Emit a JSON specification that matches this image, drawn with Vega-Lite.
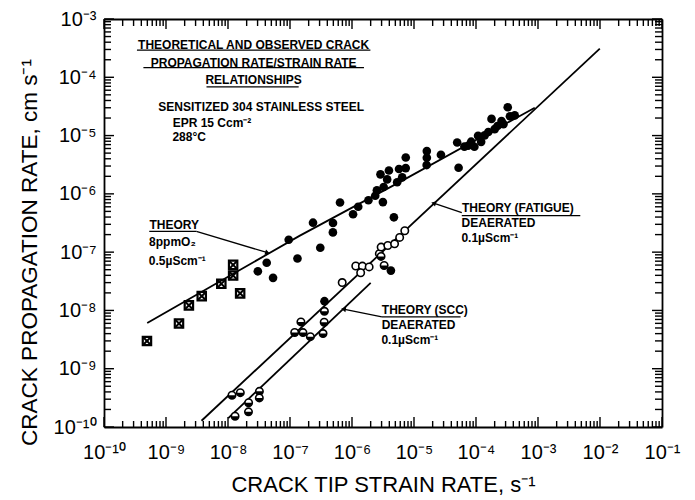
{
  "$schema": "https://vega.github.io/schema/vega-lite/v6.json",
  "width": 558,
  "height": 408,
  "autosize": {"type": "none"},
  "padding": {"left": 104, "top": 19, "right": 33, "bottom": 73},
  "background": "white",
  "config": {
    "view": {"stroke": null},
    "axis": {"grid": false, "domain": false, "ticks": false, "tickSize": 0, "domainColor": "black", "labelColor": "black", "titleColor": "black", "labelFont": "Liberation Sans", "titleFont": "Liberation Sans", "titleFontWeight": "normal", "labelFlush": false, "labelOverlap": false},
    "text": {"font": "Liberation Sans"}
  },
  "datasets": {
    "vt": [
      {"x":1e-10,"y":1e-10,"y2":1.485e-10},{"x":2e-10,"y":1e-10,"y2":1.267e-10},{"x":3e-10,"y":1e-10,"y2":1.267e-10},{"x":4e-10,"y":1e-10,"y2":1.267e-10},{"x":5e-10,"y":1e-10,"y2":1.267e-10},{"x":6e-10,"y":1e-10,"y2":1.267e-10},{"x":7e-10,"y":1e-10,"y2":1.267e-10},{"x":8e-10,"y":1e-10,"y2":1.267e-10},{"x":9e-10,"y":1e-10,"y2":1.267e-10},
      {"x":1e-9,"y":1e-10,"y2":1.485e-10},{"x":2e-9,"y":1e-10,"y2":1.267e-10},{"x":3e-9,"y":1e-10,"y2":1.267e-10},{"x":4e-9,"y":1e-10,"y2":1.267e-10},{"x":5e-9,"y":1e-10,"y2":1.267e-10},{"x":6e-9,"y":1e-10,"y2":1.267e-10},{"x":7e-9,"y":1e-10,"y2":1.267e-10},{"x":8e-9,"y":1e-10,"y2":1.267e-10},{"x":9e-9,"y":1e-10,"y2":1.267e-10},
      {"x":1e-8,"y":1e-10,"y2":1.485e-10},{"x":2e-8,"y":1e-10,"y2":1.267e-10},{"x":3e-8,"y":1e-10,"y2":1.267e-10},{"x":4e-8,"y":1e-10,"y2":1.267e-10},{"x":5e-8,"y":1e-10,"y2":1.267e-10},{"x":6e-8,"y":1e-10,"y2":1.267e-10},{"x":7e-8,"y":1e-10,"y2":1.267e-10},{"x":8e-8,"y":1e-10,"y2":1.267e-10},{"x":9e-8,"y":1e-10,"y2":1.267e-10},
      {"x":1e-7,"y":1e-10,"y2":1.485e-10},{"x":2e-7,"y":1e-10,"y2":1.267e-10},{"x":3e-7,"y":1e-10,"y2":1.267e-10},{"x":4e-7,"y":1e-10,"y2":1.267e-10},{"x":5e-7,"y":1e-10,"y2":1.267e-10},{"x":6e-7,"y":1e-10,"y2":1.267e-10},{"x":7e-7,"y":1e-10,"y2":1.267e-10},{"x":8e-7,"y":1e-10,"y2":1.267e-10},{"x":9e-7,"y":1e-10,"y2":1.267e-10},
      {"x":1e-6,"y":1e-10,"y2":1.485e-10},{"x":2e-6,"y":1e-10,"y2":1.267e-10},{"x":3e-6,"y":1e-10,"y2":1.267e-10},{"x":4e-6,"y":1e-10,"y2":1.267e-10},{"x":5e-6,"y":1e-10,"y2":1.267e-10},{"x":6e-6,"y":1e-10,"y2":1.267e-10},{"x":7e-6,"y":1e-10,"y2":1.267e-10},{"x":8e-6,"y":1e-10,"y2":1.267e-10},{"x":9e-6,"y":1e-10,"y2":1.267e-10},
      {"x":1e-5,"y":1e-10,"y2":1.485e-10},{"x":2e-5,"y":1e-10,"y2":1.267e-10},{"x":3e-5,"y":1e-10,"y2":1.267e-10},{"x":4e-5,"y":1e-10,"y2":1.267e-10},{"x":5e-5,"y":1e-10,"y2":1.267e-10},{"x":6e-5,"y":1e-10,"y2":1.267e-10},{"x":7e-5,"y":1e-10,"y2":1.267e-10},{"x":8e-5,"y":1e-10,"y2":1.267e-10},{"x":9e-5,"y":1e-10,"y2":1.267e-10},
      {"x":1e-4,"y":1e-10,"y2":1.485e-10},{"x":2e-4,"y":1e-10,"y2":1.267e-10},{"x":3e-4,"y":1e-10,"y2":1.267e-10},{"x":4e-4,"y":1e-10,"y2":1.267e-10},{"x":5e-4,"y":1e-10,"y2":1.267e-10},{"x":6e-4,"y":1e-10,"y2":1.267e-10},{"x":7e-4,"y":1e-10,"y2":1.267e-10},{"x":8e-4,"y":1e-10,"y2":1.267e-10},{"x":9e-4,"y":1e-10,"y2":1.267e-10},
      {"x":0.001,"y":1e-10,"y2":1.485e-10},{"x":0.002,"y":1e-10,"y2":1.267e-10},{"x":0.003,"y":1e-10,"y2":1.267e-10},{"x":0.004,"y":1e-10,"y2":1.267e-10},{"x":0.005,"y":1e-10,"y2":1.267e-10},{"x":0.006,"y":1e-10,"y2":1.267e-10},{"x":0.007,"y":1e-10,"y2":1.267e-10},{"x":0.008,"y":1e-10,"y2":1.267e-10},{"x":0.009,"y":1e-10,"y2":1.267e-10},
      {"x":0.01,"y":1e-10,"y2":1.485e-10},{"x":0.02,"y":1e-10,"y2":1.267e-10},{"x":0.03,"y":1e-10,"y2":1.267e-10},{"x":0.04,"y":1e-10,"y2":1.267e-10},{"x":0.05,"y":1e-10,"y2":1.267e-10},{"x":0.06,"y":1e-10,"y2":1.267e-10},{"x":0.07,"y":1e-10,"y2":1.267e-10},{"x":0.08,"y":1e-10,"y2":1.267e-10},{"x":0.09,"y":1e-10,"y2":1.267e-10},
      {"x":0.1,"y":1e-10,"y2":1.485e-10},
      {"x":1e-10,"y":0.001,"y2":6.73e-4},{"x":2e-10,"y":0.001,"y2":7.59e-4},{"x":3e-10,"y":0.001,"y2":7.59e-4},{"x":4e-10,"y":0.001,"y2":7.59e-4},{"x":5e-10,"y":0.001,"y2":7.59e-4},{"x":6e-10,"y":0.001,"y2":7.59e-4},{"x":7e-10,"y":0.001,"y2":7.59e-4},{"x":8e-10,"y":0.001,"y2":7.59e-4},{"x":9e-10,"y":0.001,"y2":7.59e-4},
      {"x":1e-9,"y":0.001,"y2":6.73e-4},{"x":2e-9,"y":0.001,"y2":7.59e-4},{"x":3e-9,"y":0.001,"y2":7.59e-4},{"x":4e-9,"y":0.001,"y2":7.59e-4},{"x":5e-9,"y":0.001,"y2":7.59e-4},{"x":6e-9,"y":0.001,"y2":7.59e-4},{"x":7e-9,"y":0.001,"y2":7.59e-4},{"x":8e-9,"y":0.001,"y2":7.59e-4},{"x":9e-9,"y":0.001,"y2":7.59e-4},
      {"x":1e-8,"y":0.001,"y2":6.73e-4},{"x":2e-8,"y":0.001,"y2":7.59e-4},{"x":3e-8,"y":0.001,"y2":7.59e-4},{"x":4e-8,"y":0.001,"y2":7.59e-4},{"x":5e-8,"y":0.001,"y2":7.59e-4},{"x":6e-8,"y":0.001,"y2":7.59e-4},{"x":7e-8,"y":0.001,"y2":7.59e-4},{"x":8e-8,"y":0.001,"y2":7.59e-4},{"x":9e-8,"y":0.001,"y2":7.59e-4},
      {"x":1e-7,"y":0.001,"y2":6.73e-4},{"x":2e-7,"y":0.001,"y2":7.59e-4},{"x":3e-7,"y":0.001,"y2":7.59e-4},{"x":4e-7,"y":0.001,"y2":7.59e-4},{"x":5e-7,"y":0.001,"y2":7.59e-4},{"x":6e-7,"y":0.001,"y2":7.59e-4},{"x":7e-7,"y":0.001,"y2":7.59e-4},{"x":8e-7,"y":0.001,"y2":7.59e-4},{"x":9e-7,"y":0.001,"y2":7.59e-4},
      {"x":1e-6,"y":0.001,"y2":6.73e-4},{"x":2e-6,"y":0.001,"y2":7.59e-4},{"x":3e-6,"y":0.001,"y2":7.59e-4},{"x":4e-6,"y":0.001,"y2":7.59e-4},{"x":5e-6,"y":0.001,"y2":7.59e-4},{"x":6e-6,"y":0.001,"y2":7.59e-4},{"x":7e-6,"y":0.001,"y2":7.59e-4},{"x":8e-6,"y":0.001,"y2":7.59e-4},{"x":9e-6,"y":0.001,"y2":7.59e-4},
      {"x":1e-5,"y":0.001,"y2":6.73e-4},{"x":2e-5,"y":0.001,"y2":7.59e-4},{"x":3e-5,"y":0.001,"y2":7.59e-4},{"x":4e-5,"y":0.001,"y2":7.59e-4},{"x":5e-5,"y":0.001,"y2":7.59e-4},{"x":6e-5,"y":0.001,"y2":7.59e-4},{"x":7e-5,"y":0.001,"y2":7.59e-4},{"x":8e-5,"y":0.001,"y2":7.59e-4},{"x":9e-5,"y":0.001,"y2":7.59e-4},
      {"x":1e-4,"y":0.001,"y2":6.73e-4},{"x":2e-4,"y":0.001,"y2":7.59e-4},{"x":3e-4,"y":0.001,"y2":7.59e-4},{"x":4e-4,"y":0.001,"y2":7.59e-4},{"x":5e-4,"y":0.001,"y2":7.59e-4},{"x":6e-4,"y":0.001,"y2":7.59e-4},{"x":7e-4,"y":0.001,"y2":7.59e-4},{"x":8e-4,"y":0.001,"y2":7.59e-4},{"x":9e-4,"y":0.001,"y2":7.59e-4},
      {"x":0.001,"y":0.001,"y2":6.73e-4},{"x":0.002,"y":0.001,"y2":7.59e-4},{"x":0.003,"y":0.001,"y2":7.59e-4},{"x":0.004,"y":0.001,"y2":7.59e-4},{"x":0.005,"y":0.001,"y2":7.59e-4},{"x":0.006,"y":0.001,"y2":7.59e-4},{"x":0.007,"y":0.001,"y2":7.59e-4},{"x":0.008,"y":0.001,"y2":7.59e-4},{"x":0.009,"y":0.001,"y2":7.59e-4},
      {"x":0.01,"y":0.001,"y2":6.73e-4},{"x":0.02,"y":0.001,"y2":7.59e-4},{"x":0.03,"y":0.001,"y2":7.59e-4},{"x":0.04,"y":0.001,"y2":7.59e-4},{"x":0.05,"y":0.001,"y2":7.59e-4},{"x":0.06,"y":0.001,"y2":7.59e-4},{"x":0.07,"y":0.001,"y2":7.59e-4},{"x":0.08,"y":0.001,"y2":7.59e-4},{"x":0.09,"y":0.001,"y2":7.59e-4},
      {"x":0.1,"y":0.001,"y2":6.73e-4}
    ],
    "ht": [
      {"y":1e-10,"x":1e-10,"x2":1.449e-10},{"y":2e-10,"x":1e-10,"x2":1.297e-10},{"y":3e-10,"x":1e-10,"x2":1.297e-10},{"y":4e-10,"x":1e-10,"x2":1.297e-10},{"y":5e-10,"x":1e-10,"x2":1.297e-10},{"y":6e-10,"x":1e-10,"x2":1.297e-10},{"y":7e-10,"x":1e-10,"x2":1.297e-10},{"y":8e-10,"x":1e-10,"x2":1.297e-10},{"y":9e-10,"x":1e-10,"x2":1.297e-10},
      {"y":1e-9,"x":1e-10,"x2":1.449e-10},{"y":2e-9,"x":1e-10,"x2":1.297e-10},{"y":3e-9,"x":1e-10,"x2":1.297e-10},{"y":4e-9,"x":1e-10,"x2":1.297e-10},{"y":5e-9,"x":1e-10,"x2":1.297e-10},{"y":6e-9,"x":1e-10,"x2":1.297e-10},{"y":7e-9,"x":1e-10,"x2":1.297e-10},{"y":8e-9,"x":1e-10,"x2":1.297e-10},{"y":9e-9,"x":1e-10,"x2":1.297e-10},
      {"y":1e-8,"x":1e-10,"x2":1.449e-10},{"y":2e-8,"x":1e-10,"x2":1.297e-10},{"y":3e-8,"x":1e-10,"x2":1.297e-10},{"y":4e-8,"x":1e-10,"x2":1.297e-10},{"y":5e-8,"x":1e-10,"x2":1.297e-10},{"y":6e-8,"x":1e-10,"x2":1.297e-10},{"y":7e-8,"x":1e-10,"x2":1.297e-10},{"y":8e-8,"x":1e-10,"x2":1.297e-10},{"y":9e-8,"x":1e-10,"x2":1.297e-10},
      {"y":1e-7,"x":1e-10,"x2":1.449e-10},{"y":2e-7,"x":1e-10,"x2":1.297e-10},{"y":3e-7,"x":1e-10,"x2":1.297e-10},{"y":4e-7,"x":1e-10,"x2":1.297e-10},{"y":5e-7,"x":1e-10,"x2":1.297e-10},{"y":6e-7,"x":1e-10,"x2":1.297e-10},{"y":7e-7,"x":1e-10,"x2":1.297e-10},{"y":8e-7,"x":1e-10,"x2":1.297e-10},{"y":9e-7,"x":1e-10,"x2":1.297e-10},
      {"y":1e-6,"x":1e-10,"x2":1.449e-10},{"y":2e-6,"x":1e-10,"x2":1.297e-10},{"y":3e-6,"x":1e-10,"x2":1.297e-10},{"y":4e-6,"x":1e-10,"x2":1.297e-10},{"y":5e-6,"x":1e-10,"x2":1.297e-10},{"y":6e-6,"x":1e-10,"x2":1.297e-10},{"y":7e-6,"x":1e-10,"x2":1.297e-10},{"y":8e-6,"x":1e-10,"x2":1.297e-10},{"y":9e-6,"x":1e-10,"x2":1.297e-10},
      {"y":1e-5,"x":1e-10,"x2":1.449e-10},{"y":2e-5,"x":1e-10,"x2":1.297e-10},{"y":3e-5,"x":1e-10,"x2":1.297e-10},{"y":4e-5,"x":1e-10,"x2":1.297e-10},{"y":5e-5,"x":1e-10,"x2":1.297e-10},{"y":6e-5,"x":1e-10,"x2":1.297e-10},{"y":7e-5,"x":1e-10,"x2":1.297e-10},{"y":8e-5,"x":1e-10,"x2":1.297e-10},{"y":9e-5,"x":1e-10,"x2":1.297e-10},
      {"y":1e-4,"x":1e-10,"x2":1.449e-10},{"y":2e-4,"x":1e-10,"x2":1.297e-10},{"y":3e-4,"x":1e-10,"x2":1.297e-10},{"y":4e-4,"x":1e-10,"x2":1.297e-10},{"y":5e-4,"x":1e-10,"x2":1.297e-10},{"y":6e-4,"x":1e-10,"x2":1.297e-10},{"y":7e-4,"x":1e-10,"x2":1.297e-10},{"y":8e-4,"x":1e-10,"x2":1.297e-10},{"y":9e-4,"x":1e-10,"x2":1.297e-10},
      {"y":0.001,"x":1e-10,"x2":1.449e-10},
      {"y":1e-10,"x":0.1,"x2":0.069},{"y":2e-10,"x":0.1,"x2":0.0771},{"y":3e-10,"x":0.1,"x2":0.0771},{"y":4e-10,"x":0.1,"x2":0.0771},{"y":5e-10,"x":0.1,"x2":0.0771},{"y":6e-10,"x":0.1,"x2":0.0771},{"y":7e-10,"x":0.1,"x2":0.0771},{"y":8e-10,"x":0.1,"x2":0.0771},{"y":9e-10,"x":0.1,"x2":0.0771},
      {"y":1e-9,"x":0.1,"x2":0.069},{"y":2e-9,"x":0.1,"x2":0.0771},{"y":3e-9,"x":0.1,"x2":0.0771},{"y":4e-9,"x":0.1,"x2":0.0771},{"y":5e-9,"x":0.1,"x2":0.0771},{"y":6e-9,"x":0.1,"x2":0.0771},{"y":7e-9,"x":0.1,"x2":0.0771},{"y":8e-9,"x":0.1,"x2":0.0771},{"y":9e-9,"x":0.1,"x2":0.0771},
      {"y":1e-8,"x":0.1,"x2":0.069},{"y":2e-8,"x":0.1,"x2":0.0771},{"y":3e-8,"x":0.1,"x2":0.0771},{"y":4e-8,"x":0.1,"x2":0.0771},{"y":5e-8,"x":0.1,"x2":0.0771},{"y":6e-8,"x":0.1,"x2":0.0771},{"y":7e-8,"x":0.1,"x2":0.0771},{"y":8e-8,"x":0.1,"x2":0.0771},{"y":9e-8,"x":0.1,"x2":0.0771},
      {"y":1e-7,"x":0.1,"x2":0.069},{"y":2e-7,"x":0.1,"x2":0.0771},{"y":3e-7,"x":0.1,"x2":0.0771},{"y":4e-7,"x":0.1,"x2":0.0771},{"y":5e-7,"x":0.1,"x2":0.0771},{"y":6e-7,"x":0.1,"x2":0.0771},{"y":7e-7,"x":0.1,"x2":0.0771},{"y":8e-7,"x":0.1,"x2":0.0771},{"y":9e-7,"x":0.1,"x2":0.0771},
      {"y":1e-6,"x":0.1,"x2":0.069},{"y":2e-6,"x":0.1,"x2":0.0771},{"y":3e-6,"x":0.1,"x2":0.0771},{"y":4e-6,"x":0.1,"x2":0.0771},{"y":5e-6,"x":0.1,"x2":0.0771},{"y":6e-6,"x":0.1,"x2":0.0771},{"y":7e-6,"x":0.1,"x2":0.0771},{"y":8e-6,"x":0.1,"x2":0.0771},{"y":9e-6,"x":0.1,"x2":0.0771},
      {"y":1e-5,"x":0.1,"x2":0.069},{"y":2e-5,"x":0.1,"x2":0.0771},{"y":3e-5,"x":0.1,"x2":0.0771},{"y":4e-5,"x":0.1,"x2":0.0771},{"y":5e-5,"x":0.1,"x2":0.0771},{"y":6e-5,"x":0.1,"x2":0.0771},{"y":7e-5,"x":0.1,"x2":0.0771},{"y":8e-5,"x":0.1,"x2":0.0771},{"y":9e-5,"x":0.1,"x2":0.0771},
      {"y":1e-4,"x":0.1,"x2":0.069},{"y":2e-4,"x":0.1,"x2":0.0771},{"y":3e-4,"x":0.1,"x2":0.0771},{"y":4e-4,"x":0.1,"x2":0.0771},{"y":5e-4,"x":0.1,"x2":0.0771},{"y":6e-4,"x":0.1,"x2":0.0771},{"y":7e-4,"x":0.1,"x2":0.0771},{"y":8e-4,"x":0.1,"x2":0.0771},{"y":9e-4,"x":0.1,"x2":0.0771},
      {"y":0.001,"x":0.1,"x2":0.069}
    ],
    "pts": [
      {"set": "square", "x": 4.93e-10, "y": 2.99e-9},
      {"set": "square", "x": 1.62e-9, "y": 5.97e-9},
      {"set": "square", "x": 2.34e-9, "y": 1.22e-8},
      {"set": "square", "x": 3.77e-9, "y": 1.76e-8},
      {"set": "square", "x": 7.80e-9, "y": 2.86e-8},
      {"set": "square", "x": 1.21e-8, "y": 3.97e-8},
      {"set": "square", "x": 1.21e-8, "y": 6.04e-8},
      {"set": "square", "x": 1.57e-8, "y": 1.96e-8},
      {"set": "filled", "x": 3.03e-8, "y": 4.69e-8},
      {"set": "filled", "x": 4.21e-8, "y": 6.58e-8},
      {"set": "filled", "x": 5.33e-8, "y": 3.62e-8},
      {"set": "filled", "x": 9.53e-8, "y": 1.63e-7},
      {"set": "filled", "x": 1.32e-7, "y": 7.78e-8},
      {"set": "filled", "x": 3.08e-7, "y": 1.19e-7},
      {"set": "filled", "x": 2.35e-7, "y": 3.20e-7},
      {"set": "filled", "x": 4.94e-7, "y": 3.16e-7},
      {"set": "filled", "x": 4.92e-7, "y": 2.18e-7},
      {"set": "filled", "x": 6.41e-7, "y": 7.11e-7},
      {"set": "filled", "x": 1.04e-6, "y": 4.47e-7},
      {"set": "filled", "x": 1.26e-6, "y": 6.01e-7},
      {"set": "filled", "x": 1.84e-6, "y": 7.78e-7},
      {"set": "filled", "x": 2.52e-6, "y": 1.15e-6},
      {"set": "filled", "x": 2.37e-6, "y": 9.27e-7},
      {"set": "filled", "x": 3.15e-6, "y": 7.23e-7},
      {"set": "filled", "x": 4.74e-6, "y": 3.96e-7},
      {"set": "filled", "x": 2.88e-6, "y": 2.16e-6},
      {"set": "filled", "x": 3.94e-6, "y": 2.52e-6},
      {"set": "filled", "x": 3.69e-6, "y": 1.77e-6},
      {"set": "filled", "x": 3.24e-6, "y": 1.31e-6},
      {"set": "filled", "x": 5.35e-6, "y": 1.58e-6},
      {"set": "filled", "x": 6.44e-6, "y": 1.92e-6},
      {"set": "filled", "x": 5.73e-6, "y": 2.67e-6},
      {"set": "filled", "x": 7.35e-6, "y": 2.77e-6},
      {"set": "filled", "x": 7.36e-6, "y": 4.21e-6},
      {"set": "filled", "x": 1.61e-5, "y": 5.42e-6},
      {"set": "filled", "x": 1.61e-5, "y": 4.16e-6},
      {"set": "filled", "x": 1.60e-5, "y": 3.12e-6},
      {"set": "filled", "x": 2.72e-5, "y": 4.69e-6},
      {"set": "filled", "x": 4.97e-5, "y": 7.60e-6},
      {"set": "filled", "x": 5.24e-5, "y": 2.80e-6},
      {"set": "filled", "x": 6.50e-5, "y": 6.47e-6},
      {"set": "filled", "x": 7.45e-5, "y": 6.70e-6},
      {"set": "filled", "x": 8.36e-5, "y": 7.85e-6},
      {"set": "filled", "x": 9.42e-5, "y": 6.43e-6},
      {"set": "filled", "x": 1.08e-4, "y": 9.91e-6},
      {"set": "filled", "x": 1.21e-4, "y": 7.80e-6},
      {"set": "filled", "x": 1.38e-4, "y": 1.01e-5},
      {"set": "filled", "x": 1.58e-4, "y": 1.15e-5},
      {"set": "filled", "x": 1.78e-4, "y": 1.93e-5},
      {"set": "filled", "x": 2.00e-4, "y": 1.29e-5},
      {"set": "filled", "x": 2.22e-4, "y": 1.46e-5},
      {"set": "filled", "x": 2.58e-4, "y": 1.77e-5},
      {"set": "filled", "x": 2.77e-4, "y": 1.57e-5},
      {"set": "filled", "x": 3.25e-4, "y": 3.06e-5},
      {"set": "filled", "x": 3.53e-4, "y": 2.14e-5},
      {"set": "filled", "x": 4.21e-4, "y": 2.22e-5},
      {"set": "filled", "x": 3.60e-7, "y": 1.44e-8},
      {"set": "filled", "x": 4.24e-6, "y": 4.83e-8},
      {"set": "open", "x": 6.95e-7, "y": 3.01e-8},
      {"set": "open", "x": 1.15e-6, "y": 5.78e-8},
      {"set": "open", "x": 1.47e-6, "y": 5.77e-8},
      {"set": "open", "x": 1.89e-6, "y": 5.58e-8},
      {"set": "open", "x": 1.38e-6, "y": 4.43e-8},
      {"set": "open", "x": 2.76e-6, "y": 9.42e-8},
      {"set": "open", "x": 2.95e-6, "y": 1.22e-7},
      {"set": "open", "x": 3.78e-6, "y": 1.30e-7},
      {"set": "open", "x": 4.86e-6, "y": 1.39e-7},
      {"set": "open", "x": 5.87e-6, "y": 1.79e-7},
      {"set": "open", "x": 7.10e-6, "y": 2.33e-7},
      {"set": "half", "x": 1.16e-8, "y": 3.51e-10},
      {"set": "half", "x": 1.58e-8, "y": 3.88e-10},
      {"set": "half", "x": 3.21e-8, "y": 4.09e-10},
      {"set": "half", "x": 3.20e-8, "y": 3.16e-10},
      {"set": "half", "x": 2.15e-8, "y": 2.61e-10},
      {"set": "half", "x": 2.14e-8, "y": 1.82e-10},
      {"set": "half", "x": 1.30e-8, "y": 1.53e-10},
      {"set": "half", "x": 1.19e-7, "y": 4.19e-9},
      {"set": "half", "x": 1.62e-7, "y": 4.17e-9},
      {"set": "half", "x": 2.13e-7, "y": 3.55e-9},
      {"set": "half", "x": 3.41e-7, "y": 4.01e-9},
      {"set": "half", "x": 3.56e-7, "y": 6.27e-9},
      {"set": "half", "x": 3.59e-7, "y": 9.66e-9},
      {"set": "half", "x": 1.50e-7, "y": 6.35e-9},
      {"set": "half", "x": 2.94e-6, "y": 8.45e-8},
      {"set": "half", "x": 3.30e-6, "y": 5.90e-8}
    ],
    "lines": [
      {"line": "theory O2", "i": 1, "x": 4.98e-10, "y": 6.10e-9},
      {"line": "theory O2", "i": 2, "x": 1.42e-7, "y": 1.90e-7},
      {"line": "theory O2", "i": 3, "x": 6.05e-6, "y": 1.62e-6},
      {"line": "theory O2", "i": 4, "x": 8.87e-4, "y": 3.01e-5},
      {"line": "theory fatigue", "i": 1, "x": 3.74e-9, "y": 1.28e-10},
      {"line": "theory fatigue", "i": 2, "x": 9.93e-3, "y": 3.11e-4},
      {"line": "theory SCC", "i": 1, "x": 1.01e-8, "y": 1.42e-10},
      {"line": "theory SCC", "i": 2, "x": 2.00e-6, "y": 2.96e-8}
    ],
    "rules": [
      {"part": "underline 1", "x": 3.40e-10, "y": 2.92e-4, "x2": 1.98e-6, "y2": 2.92e-4},
      {"part": "underline 2", "x": 4.32e-10, "y": 1.46e-4, "x2": 1.56e-6, "y2": 1.46e-4},
      {"part": "underline 3", "x": 4.50e-9, "y": 6.87e-5, "x2": 1.38e-7, "y2": 6.87e-5},
      {"part": "O2 underline", "x": 5.37e-10, "y": 2.27e-7, "x2": 3.09e-9, "y2": 2.27e-7},
      {"part": "O2 arrow", "x": 3.09e-9, "y": 2.27e-7, "x2": 4.34e-8, "y2": 9.77e-8},
      {"part": "fatigue underline", "x": 5.90e-5, "y": 4.22e-7, "x2": 4.81e-3, "y2": 4.22e-7},
      {"part": "fatigue arrow", "x": 5.90e-5, "y": 4.78e-7, "x2": 2.07e-5, "y2": 6.92e-7},
      {"part": "SCC underline", "x": 3.03e-6, "y": 7.73e-9, "x2": 5.64e-5, "y2": 7.73e-9},
      {"part": "SCC arrow", "x": 3.03e-6, "y": 7.73e-9, "x2": 7.29e-7, "y2": 1.05e-8}
    ],
    "texts": [
      {"block": "title", "text": "THEORETICAL AND OBSERVED CRACK", "x": 2.59e-8, "y": 3.56e-4},
      {"block": "title", "text": "PROPAGATION RATE/STRAIN RATE", "x": 2.59e-8, "y": 1.79e-4},
      {"block": "title", "text": "RELATIONSHIPS", "x": 2.59e-8, "y": 8.81e-5},
      {"block": "note", "text": "SENSITIZED 304 STAINLESS STEEL", "x": 7.53e-10, "y": 3.08e-5},
      {"block": "note", "text": "EPR 15 Ccm⁻²", "x": 1.28e-9, "y": 1.63e-5},
      {"block": "note", "text": "288°C", "x": 1.27e-9, "y": 9.33e-6},
      {"block": "note", "text": "THEORY", "x": 5.40e-10, "y": 2.92e-7},
      {"block": "note", "text": "8ppmO₂", "x": 5.33e-10, "y": 1.49e-7},
      {"block": "note", "text": "0.5µScm⁻¹", "x": 5.28e-10, "y": 7.05e-8},
      {"block": "note", "text": "THEORY (FATIGUE)", "x": 5.92e-5, "y": 5.65e-7},
      {"block": "note", "text": "DEAERATED", "x": 5.86e-5, "y": 3.13e-7},
      {"block": "note", "text": "0.1µScm⁻¹", "x": 5.82e-5, "y": 1.74e-7},
      {"block": "note", "text": "THEORY (SCC)", "x": 3.03e-6, "y": 1.00e-8},
      {"block": "note", "text": "DEAERATED", "x": 3.01e-6, "y": 5.53e-9},
      {"block": "note", "text": "0.1µScm⁻¹", "x": 2.98e-6, "y": 3.15e-9}
    ],
    "heads": [
      {"label": "O2", "x": 4.34e-8, "y": 9.77e-8},
      {"label": "fatigue", "x": 2.07e-5, "y": 6.92e-7},
      {"label": "SCC", "x": 7.29e-7, "y": 1.05e-8}
    ]
  },
  "layer": [
    {
      "data": {"name": "vt"},
      "mark": {"type": "rule", "color": "black", "strokeWidth": 1.4},
      "encoding": {
        "x": {"field": "x", "type": "quantitative", "scale": {"type": "log", "domain": [1e-10, 0.1], "nice": false},
          "axis": {"orient": "bottom", "values": [1e-10,1e-9,1e-8,1e-7,1e-6,1e-5,1e-4,0.001,0.01,0.1], "labelExpr": "['10⁻¹⁰','10⁻⁹','10⁻⁸','10⁻⁷','10⁻⁶','10⁻⁵','10⁻⁴','10⁻³','10⁻²','10⁻¹'][round(log(datum.value)/LN10)+10]", "labelFontSize": 20, "labelPadding": 15, "title": "CRACK TIP STRAIN RATE, s⁻¹", "titleFontSize": 22, "titlePadding": 12, "domain": true, "domainWidth": 1.8}},
        "y": {"field": "y", "type": "quantitative", "scale": {"type": "log", "domain": [1e-10, 0.001], "nice": false},
          "axis": {"orient": "left", "values": [1e-10,1e-9,1e-8,1e-7,1e-6,1e-5,1e-4,0.001], "labelExpr": "['10⁻¹⁰','10⁻⁹','10⁻⁸','10⁻⁷','10⁻⁶','10⁻⁵','10⁻⁴','10⁻³','10⁻²','10⁻¹'][round(log(datum.value)/LN10)+10]", "labelFontSize": 20, "labelPadding": 8, "title": "CRACK PROPAGATION RATE, cm s⁻¹", "titleFontSize": 22.5, "titlePadding": 12, "titleY": 233, "domain": true, "domainWidth": 1.8}},
        "y2": {"field": "y2"}
      }
    },
    {
      "data": {"name": "ht"},
      "mark": {"type": "rule", "color": "black", "strokeWidth": 1.4},
      "encoding": {
        "x": {"field": "x", "type": "quantitative", "scale": {"type": "log", "domain": [1e-10, 0.1], "nice": false},
          "axis": {"orient": "top", "labels": false, "title": null, "domain": true, "domainWidth": 1.8}},
        "y": {"field": "y", "type": "quantitative", "scale": {"type": "log", "domain": [1e-10, 0.001], "nice": false},
          "axis": {"orient": "right", "labels": false, "title": null, "domain": true, "domainWidth": 1.8}},
        "x2": {"field": "x2"}
      }
    },
    {
      "data": {"name": "lines"},
      "mark": {"type": "line", "color": "black", "strokeWidth": 1.8},
      "encoding": {
        "x": {"field": "x", "type": "quantitative", "scale": {"type": "log", "domain": [1e-10, 0.1], "nice": false}, "axis": null},
        "y": {"field": "y", "type": "quantitative", "scale": {"type": "log", "domain": [1e-10, 0.001], "nice": false}, "axis": null},
        "detail": {"field": "line"},
        "order": {"field": "i"}
      }
    },
    {
      "data": {"name": "pts"},
      "transform": [{"filter": "datum.set == 'square'"}],
      "mark": {"type": "point", "shape": "square", "filled": false, "color": "black", "strokeWidth": 2.2, "size": 70, "opacity": 1},
      "encoding": {
        "x": {"field": "x", "type": "quantitative", "scale": {"type": "log", "domain": [1e-10, 0.1], "nice": false}, "axis": null},
        "y": {"field": "y", "type": "quantitative", "scale": {"type": "log", "domain": [1e-10, 0.001], "nice": false}, "axis": null}
      }
    },
    {
      "data": {"name": "pts"},
      "transform": [{"filter": "datum.set == 'square'"}],
      "mark": {"type": "point", "shape": "M-1,-1L1,1M1,-1L-1,1", "filled": false, "color": "black", "strokeWidth": 2, "size": 70, "opacity": 1},
      "encoding": {
        "x": {"field": "x", "type": "quantitative", "scale": {"type": "log", "domain": [1e-10, 0.1], "nice": false}, "axis": null},
        "y": {"field": "y", "type": "quantitative", "scale": {"type": "log", "domain": [1e-10, 0.001], "nice": false}, "axis": null}
      }
    },
    {
      "data": {"name": "pts"},
      "transform": [{"filter": "datum.set == 'filled'"}],
      "mark": {"type": "point", "shape": "circle", "filled": true, "color": "black", "size": 75, "opacity": 1},
      "encoding": {
        "x": {"field": "x", "type": "quantitative", "scale": {"type": "log", "domain": [1e-10, 0.1], "nice": false}, "axis": null},
        "y": {"field": "y", "type": "quantitative", "scale": {"type": "log", "domain": [1e-10, 0.001], "nice": false}, "axis": null}
      }
    },
    {
      "data": {"name": "pts"},
      "transform": [{"filter": "datum.set == 'open' || datum.set == 'half'"}],
      "mark": {"type": "point", "shape": "circle", "filled": false, "fill": "white", "fillOpacity": 1, "stroke": "black", "strokeWidth": 1.6, "size": 55, "opacity": 1},
      "encoding": {
        "x": {"field": "x", "type": "quantitative", "scale": {"type": "log", "domain": [1e-10, 0.1], "nice": false}, "axis": null},
        "y": {"field": "y", "type": "quantitative", "scale": {"type": "log", "domain": [1e-10, 0.001], "nice": false}, "axis": null}
      }
    },
    {
      "data": {"name": "pts"},
      "transform": [{"filter": "datum.set == 'half'"}],
      "mark": {"type": "point", "shape": "M-1,0A1,1,0,0,0,1,0Z", "filled": true, "color": "black", "size": 55, "opacity": 1},
      "encoding": {
        "x": {"field": "x", "type": "quantitative", "scale": {"type": "log", "domain": [1e-10, 0.1], "nice": false}, "axis": null},
        "y": {"field": "y", "type": "quantitative", "scale": {"type": "log", "domain": [1e-10, 0.001], "nice": false}, "axis": null}
      }
    },
    {
      "data": {"name": "rules"},
      "mark": {"type": "rule", "color": "black", "strokeWidth": 1.3},
      "encoding": {
        "x": {"field": "x", "type": "quantitative", "scale": {"type": "log", "domain": [1e-10, 0.1], "nice": false}, "axis": null},
        "y": {"field": "y", "type": "quantitative", "scale": {"type": "log", "domain": [1e-10, 0.001], "nice": false}, "axis": null},
        "x2": {"field": "x2"},
        "y2": {"field": "y2"}
      }
    },
    {
      "data": {"name": "texts"},
      "transform": [{"filter": "datum.block == 'title'"}],
      "mark": {"type": "text", "align": "center", "baseline": "middle", "fontSize": 12, "fontWeight": "bold", "color": "black"},
      "encoding": {
        "x": {"field": "x", "type": "quantitative", "scale": {"type": "log", "domain": [1e-10, 0.1], "nice": false}, "axis": null},
        "y": {"field": "y", "type": "quantitative", "scale": {"type": "log", "domain": [1e-10, 0.001], "nice": false}, "axis": null},
        "text": {"field": "text"}
      }
    },
    {
      "data": {"name": "texts"},
      "transform": [{"filter": "datum.block == 'note'"}],
      "mark": {"type": "text", "align": "left", "baseline": "middle", "fontSize": 12, "fontWeight": "bold", "color": "black"},
      "encoding": {
        "x": {"field": "x", "type": "quantitative", "scale": {"type": "log", "domain": [1e-10, 0.1], "nice": false}, "axis": null},
        "y": {"field": "y", "type": "quantitative", "scale": {"type": "log", "domain": [1e-10, 0.001], "nice": false}, "axis": null},
        "text": {"field": "text"}
      }
    },
    {
      "data": {"name": "heads"},
      "transform": [{"filter": "datum.label == 'O2'"}],
      "mark": {"type": "point", "shape": "triangle-right", "filled": true, "color": "black", "size": 30, "angle": 16, "opacity": 1},
      "encoding": {
        "x": {"field": "x", "type": "quantitative", "scale": {"type": "log", "domain": [1e-10, 0.1], "nice": false}, "axis": null},
        "y": {"field": "y", "type": "quantitative", "scale": {"type": "log", "domain": [1e-10, 0.001], "nice": false}, "axis": null}
      }
    },
    {
      "data": {"name": "heads"},
      "transform": [{"filter": "datum.label == 'fatigue'"}],
      "mark": {"type": "point", "shape": "triangle-left", "filled": true, "color": "black", "size": 30, "angle": 18, "opacity": 1},
      "encoding": {
        "x": {"field": "x", "type": "quantitative", "scale": {"type": "log", "domain": [1e-10, 0.1], "nice": false}, "axis": null},
        "y": {"field": "y", "type": "quantitative", "scale": {"type": "log", "domain": [1e-10, 0.001], "nice": false}, "axis": null}
      }
    },
    {
      "data": {"name": "heads"},
      "transform": [{"filter": "datum.label == 'SCC'"}],
      "mark": {"type": "point", "shape": "triangle-left", "filled": true, "color": "black", "size": 30, "angle": 9, "opacity": 1},
      "encoding": {
        "x": {"field": "x", "type": "quantitative", "scale": {"type": "log", "domain": [1e-10, 0.1], "nice": false}, "axis": null},
        "y": {"field": "y", "type": "quantitative", "scale": {"type": "log", "domain": [1e-10, 0.001], "nice": false}, "axis": null}
      }
    }
  ],
  "resolve": {"axis": {"x": "independent", "y": "independent"}}
}
